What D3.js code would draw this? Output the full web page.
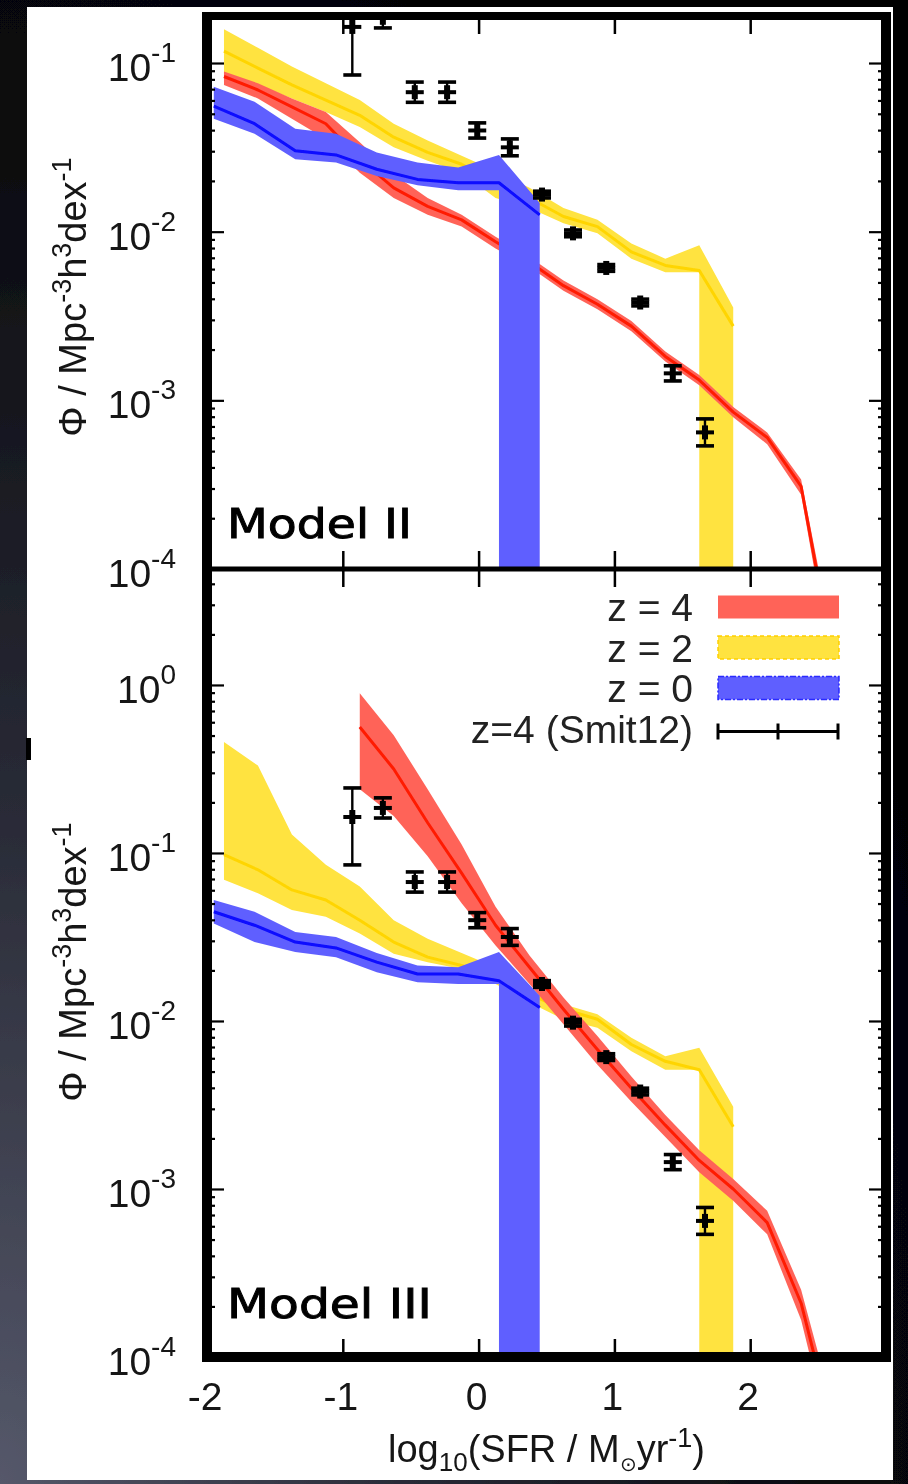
<!DOCTYPE html>
<html><head><meta charset="utf-8">
<script src="https://cdn.jsdelivr.net/npm/d3@7"></script>
<style>
html,body{margin:0;padding:0;background:#000;}
svg{display:block;}
text{font-family:"Liberation Sans",Arial,Helvetica,sans-serif;}
</style></head>
<body>
<svg id="chart" width="908" height="1484"></svg>
<script>
// ---------------- DATA (log10 of Phi / Mpc^-3 h^3 dex^-1) ----------------
// x bins (log10 SFR)
const binsRY = [-1.875,-1.625,-1.375,-1.125,-0.875,-0.625,-0.375,-0.125,0.125,0.375,0.625,0.875,1.125,1.375,1.625,1.875,2.125,2.375,2.625];
const binsBlue = [-1.95,-1.65,-1.35,-1.05,-0.75,-0.45,-0.15,0.15,0.45];
const binsRedM3 = [-0.875,-0.625,-0.375,-0.125,0.125,0.375,0.625,0.875,1.125,1.375,1.625,1.875,2.125,2.375,2.625];

// Model II -- z = 4 (red)
const m2RedMid = [-1.08,-1.16,-1.26,-1.36,-1.57,-1.74,-1.85,-1.93,-2.06,-2.18,-2.32,-2.43,-2.56,-2.74,-2.88,-3.07,-3.22,-3.51,-4.6];
const m2RedHi  = [-1.05,-1.12,-1.21,-1.29,-1.47,-1.66,-1.80,-1.90,-2.03,-2.15,-2.29,-2.40,-2.53,-2.71,-2.85,-3.04,-3.19,-3.47,-4.5];
const m2RedLo  = [-1.13,-1.21,-1.33,-1.45,-1.65,-1.80,-1.90,-1.97,-2.10,-2.21,-2.35,-2.46,-2.59,-2.77,-2.91,-3.10,-3.26,-3.56,-4.7];
// Model II -- z = 2 (yellow); null = lower bound consistent with zero
const m2YelMid = [-0.93,-1.03,-1.13,-1.22,-1.31,-1.44,-1.53,-1.60,-1.71,-1.80,-1.91,-1.97,-2.12,-2.20,-2.23,-2.56];
const m2YelHi  = [-0.80,-0.91,-1.02,-1.12,-1.22,-1.36,-1.46,-1.55,-1.64,-1.74,-1.86,-1.93,-2.07,-2.16,-2.08,-2.45];
const m2YelLo  = [-1.07,-1.13,-1.21,-1.29,-1.38,-1.50,-1.58,-1.65,-1.80,-1.86,-1.95,-2.01,-2.16,-2.24,null,null];
// Model II -- z = 0 (blue)
const m2BluMid = [-1.255,-1.36,-1.52,-1.545,-1.63,-1.69,-1.71,-1.71,-1.90];
const m2BluHi  = [-1.14,-1.23,-1.39,-1.42,-1.53,-1.59,-1.62,-1.545,-1.83];
const m2BluLo  = [-1.33,-1.42,-1.57,-1.59,-1.67,-1.725,-1.755,null,null];

// Model III -- z = 4 (red)
const m3RedMid = [-0.25,-0.50,-0.82,-1.12,-1.43,-1.68,-1.93,-2.17,-2.40,-2.62,-2.83,-3.00,-3.20,-3.68,-4.48];
const m3RedHi  = [-0.05,-0.30,-0.62,-0.95,-1.32,-1.61,-1.86,-2.09,-2.33,-2.56,-2.77,-2.94,-3.13,-3.60,-4.35];
const m3RedLo  = [-0.62,-0.78,-1.02,-1.30,-1.55,-1.78,-2.02,-2.26,-2.48,-2.69,-2.90,-3.07,-3.27,-3.78,-4.6];
// Model III -- z = 2 (yellow)
const m3YelMid = [-1.01,-1.10,-1.22,-1.28,-1.40,-1.53,-1.62,-1.67,-1.74,-1.84,-1.93,-1.99,-2.14,-2.24,-2.29,-2.63];
const m3YelHi  = [-0.34,-0.48,-0.89,-1.07,-1.20,-1.40,-1.51,-1.595,-1.68,-1.80,-1.90,-1.96,-2.10,-2.21,-2.16,-2.51];
const m3YelLo  = [-1.16,-1.24,-1.34,-1.38,-1.48,-1.60,-1.65,-1.69,-1.78,-1.89,-1.99,-2.04,-2.18,-2.29,null,null];
// Model III -- z = 0 (blue)
const m3BluMid = [-1.35,-1.43,-1.53,-1.565,-1.65,-1.72,-1.72,-1.76,-1.92];
const m3BluHi  = [-1.28,-1.35,-1.47,-1.50,-1.595,-1.67,-1.68,-1.59,-1.85];
const m3BluLo  = [-1.42,-1.53,-1.59,-1.62,-1.71,-1.77,-1.78,null,null];

// Smit et al. 2012, z = 4
const smitX     = [-0.93,-0.705,-0.47,-0.232,-0.01,0.23,0.467,0.695,0.94,1.19,1.43,1.667];
const smitLog   = [-0.786,-0.732,-1.173,-1.173,-1.40,-1.50,-1.78,-2.01,-2.215,-2.42,-2.84,-3.19];
const smitLogHi = [-0.613,-0.672,-1.113,-1.113,-1.355,-1.45,-1.76,-1.99,-2.195,-2.40,-2.795,-3.11];
const smitLogLo = [-1.071,-0.792,-1.233,-1.233,-1.445,-1.55,-1.80,-2.03,-2.235,-2.44,-2.885,-3.27];

// axes / labels
const xTicks = [-2,-1,0,1,2];
const yTicksM2 = [1e-1,1e-2,1e-3,1e-4];
const yTicksM3 = [1e0,1e-1,1e-2,1e-3,1e-4];
const legendLabels = ["z = 4","z = 2","z = 0","z=4 (Smit12)"];
const panelNames = ["Model II","Model III"];

// ---------------- STYLE ----------------
const COL = {
  red:{band:"#ff6459", line:"#ff1a05"},
  yel:{band:"#ffe33f", line:"#ffd500"},
  blu:{band:"#5f5fff", line:"#0a0aff"}
};

const svg0 = d3.select("#chart");
const W = 908, H = 1484;
const defs = svg0.append("defs");
const flt = defs.append("filter").attr("id","soft").attr("filterUnits","userSpaceOnUse")
  .attr("x",0).attr("y",0).attr("width",W).attr("height",H);
flt.append("feGaussianBlur").attr("stdDeviation",0.6);
const svg = svg0.append("g").attr("filter","url(#soft)");

// background
const rg = defs.append("radialGradient").attr("id","bg").attr("cx","0").attr("cy","1").attr("r","1.25");
rg.append("stop").attr("offset","0").attr("stop-color","#55586a");
rg.append("stop").attr("offset","0.35").attr("stop-color","#2a2c38");
rg.append("stop").attr("offset","0.75").attr("stop-color","#08080c");
rg.append("stop").attr("offset","1").attr("stop-color","#000");
svg.append("rect").attr("width",W).attr("height",H).attr("fill","url(#bg)");
svg.append("rect").attr("x",27).attr("y",7).attr("width",866).attr("height",1473).attr("fill","#fff");
svg.append("rect").attr("x",26).attr("y",738).attr("width",5).attr("height",22).attr("fill","#000");

const L = 207, R = 886;
const x = d3.scaleLinear().domain([-2,3]).range([L,R]);
const P = v => Math.pow(10, v);

const panels = [
  {name:panelNames[0], top:16, bottom:569, domain:[1e-4,0.19], ticks:yTicksM2, nameY:538, nameW:185,
   series:[
     {c:COL.yel, xs:binsRY.slice(0,16), mid:m2YelMid, hi:m2YelHi, lo:m2YelLo},
     {c:COL.red, xs:binsRY, mid:m2RedMid, hi:m2RedHi, lo:m2RedLo},
     {c:COL.blu, xs:binsBlue, mid:m2BluMid, hi:m2BluHi, lo:m2BluLo}
   ], titleY:297},
  {name:panelNames[1], top:569, bottom:1357, domain:[1e-4,4.9], ticks:yTicksM3, nameY:1318, nameW:205,
   series:[
     {c:COL.yel, xs:binsRY.slice(0,16), mid:m3YelMid, hi:m3YelHi, lo:m3YelLo},
     {c:COL.red, xs:binsRedM3, mid:m3RedMid, hi:m3RedHi, lo:m3RedLo},
     {c:COL.blu, xs:binsBlue, mid:m3BluMid, hi:m3BluHi, lo:m3BluLo}
   ], titleY:962}
];

function bandPath(s, y, floorY){
  const up = s.xs.map((xv,i)=>[x(xv), y(P(s.hi[i]))]);
  const low = [];
  s.xs.forEach((xv,i)=>{
    if(s.lo[i]!==null){ low.push([x(xv), y(P(s.lo[i]))]); }
    else {
      if(i>0 && s.lo[i-1]!==null) low.push([x(xv), y(P(s.lo[i-1]))]);
      low.push([x(xv), floorY]);
    }
  });
  return d3.line()(up.concat(low.reverse())) + "Z";
}

panels.forEach((p, pi)=>{
  const y = d3.scaleLog().domain(p.domain).range([p.bottom, p.top]);
  const cid = "clip"+pi;
  defs.append("clipPath").attr("id",cid).append("rect")
    .attr("x",L).attr("y",p.top).attr("width",R-L).attr("height",p.bottom-p.top);
  const g = svg.append("g").attr("clip-path",`url(#${cid})`);

  p.series.forEach(s=>{
    g.append("path").attr("d", bandPath(s, y, p.bottom+20)).attr("fill", s.c.band);
    g.append("path")
      .attr("d", d3.line().x((d,i)=>x(s.xs[i])).y(d=>y(P(d)))(s.mid))
      .attr("fill","none").attr("stroke", s.c.line).attr("stroke-width",3)
      .attr("stroke-linejoin","round");
  });

  // Smit12 error bars
  const eg = g.append("g").attr("stroke","#000").attr("fill","none");
  smitX.forEach((xv,i)=>{
    const cx = x(xv), cy = y(P(smitLog[i])), yh = y(P(smitLogHi[i])), yl = y(P(smitLogLo[i]));
    eg.append("line").attr("x1",cx).attr("x2",cx).attr("y1",yh).attr("y2",yl).attr("stroke-width",2.4);
    eg.append("line").attr("x1",cx-9).attr("x2",cx+9).attr("y1",yh).attr("y2",yh).attr("stroke-width",3.6);
    eg.append("line").attr("x1",cx-9).attr("x2",cx+9).attr("y1",yl).attr("y2",yl).attr("stroke-width",3.6);
    eg.append("line").attr("x1",cx-9).attr("x2",cx+9).attr("y1",cy).attr("y2",cy).attr("stroke-width",4);
    eg.append("line").attr("x1",cx).attr("x2",cx).attr("y1",cy-7).attr("y2",cy+7).attr("stroke-width",6);
  });

  // y ticks (major + minor), left and right
  const minors = [];
  for(let e=-4; e<=0; e++) for(let m=2;m<=9;m++){ const v=m*Math.pow(10,e); if(v>p.domain[0] && v<p.domain[1]) minors.push(v); }
  const axes = svg.append("g");
  const addAx = (gen, tx) => {
    const a = axes.append("g").attr("transform",`translate(${tx},0)`).call(gen);
    a.select(".domain").remove();
    a.selectAll("line").attr("stroke","#000").attr("stroke-width",2.2);
    a.selectAll("text").remove();
  };
  addAx(d3.axisLeft(y).tickValues(p.ticks).tickSize(-17), L);
  addAx(d3.axisLeft(y).tickValues(minors).tickSize(-8), L);
  addAx(d3.axisRight(y).tickValues(p.ticks).tickSize(-17), R);
  addAx(d3.axisRight(y).tickValues(minors).tickSize(-8), R);

  // x ticks (top & bottom of panel, inward)
  const xt = [-1,0,1,2];
  const ta = axes.append("g").attr("transform",`translate(0,${p.top})`).call(d3.axisTop(x).tickValues(xt).tickSize(-18));
  const ba = axes.append("g").attr("transform",`translate(0,${p.bottom})`).call(d3.axisBottom(x).tickValues(xt).tickSize(-18));
  [ta,ba].forEach(a=>{ a.select(".domain").remove(); a.selectAll("text").remove(); a.selectAll("line").attr("stroke","#000").attr("stroke-width",2.5); });

  // y tick labels
  p.ticks.forEach(t=>{
    const tx = svg.append("text").attr("x",176).attr("y",y(t)+18).attr("text-anchor","end")
      .attr("fill","#141414").attr("font-size",39);
    tx.append("tspan").text("10");
    tx.append("tspan").attr("dy",-19).attr("font-size",28).text(String(Math.round(Math.log10(t))));
  });

  // y axis title
  const tt = svg.append("text").attr("transform",`translate(86,${p.titleY}) rotate(-90)`)
    .attr("text-anchor","middle").attr("fill","#141414").attr("font-size",38);
  tt.append("tspan").text("\u03A6 / Mpc");
  tt.append("tspan").attr("dy",-15).attr("font-size",27).text("-3");
  tt.append("tspan").attr("dy",15).text("h");
  tt.append("tspan").attr("dy",-15).attr("font-size",27).text("3");
  tt.append("tspan").attr("dy",15).text("dex");
  tt.append("tspan").attr("dy",-15).attr("font-size",27).text("-1");

  // model name
  svg.append("text").attr("x",227).attr("y",p.nameY)
    .attr("font-size",40).attr("fill","#000").attr("stroke","#000").attr("stroke-width",0.9)
    .attr("textLength",p.nameW).attr("lengthAdjust","spacingAndGlyphs")
    .style("font-family","'DejaVu Sans',sans-serif").text(p.name);
});

// frame
const fr = svg.append("g").attr("stroke","#000").attr("fill","none");
fr.append("line").attr("x1",L-5).attr("x2",R+5).attr("y1",16).attr("y2",16).attr("stroke-width",8);
fr.append("line").attr("x1",L-5).attr("x2",R+5).attr("y1",1357).attr("y2",1357).attr("stroke-width",10);
fr.append("line").attr("x1",L).attr("x2",L).attr("y1",12).attr("y2",1362).attr("stroke-width",10);
fr.append("line").attr("x1",R).attr("x2",R).attr("y1",12).attr("y2",1362).attr("stroke-width",10);
fr.append("line").attr("x1",L).attr("x2",R).attr("y1",569).attr("y2",569).attr("stroke-width",5);

// x tick labels
xTicks.forEach(t=>{
  svg.append("text").attr("x",x(t)-2).attr("y",1410).attr("text-anchor","middle")
    .attr("fill","#141414").attr("font-size",39).text(String(t));
});

// x axis title
const xt = svg.append("text").attr("x",(L+R)/2).attr("y",1462).attr("text-anchor","middle")
  .attr("fill","#141414").attr("font-size",38);
xt.append("tspan").text("log");
xt.append("tspan").attr("dy",9).attr("font-size",26).text("10");
xt.append("tspan").attr("dy",-9).text("(SFR / M");
xt.append("tspan").attr("dy",9).attr("font-size",20).text("\u2299");
xt.append("tspan").attr("dy",-9).text("yr");
xt.append("tspan").attr("dy",-15).attr("font-size",27).text("-1");
xt.append("tspan").attr("dy",15).text(")");

// legend
const lg = svg.append("g");
const legCols = [COL.red.band, COL.yel.band, COL.blu.band];
const legStroke = [null, {c:"#ffd000",d:"4,3"}, {c:"#2a2aff",d:"6,2,2,2"}];
legendLabels.forEach((lab,i)=>{
  const cy = 607 + i*40.5;
  lg.append("text").attr("x",693).attr("y",cy+14).attr("text-anchor","end")
    .attr("fill","#222").attr("font-size",39).text(lab);
  if(i<3){
    const r = lg.append("rect").attr("x",718).attr("y",cy-11.5).attr("width",121).attr("height",23).attr("fill",legCols[i]);
    if(legStroke[i]) r.attr("stroke",legStroke[i].c).attr("stroke-width",1.5).attr("stroke-dasharray",legStroke[i].d);
  } else {
    const ly = cy + 3;
    lg.append("line").attr("x1",718).attr("x2",838).attr("y1",ly).attr("y2",ly).attr("stroke","#000").attr("stroke-width",3);
    [718,778,838].forEach(px=>{
      lg.append("line").attr("x1",px).attr("x2",px).attr("y1",ly-8).attr("y2",ly+8).attr("stroke","#000").attr("stroke-width",3);
    });
  }
});
</script>
</body></html>
